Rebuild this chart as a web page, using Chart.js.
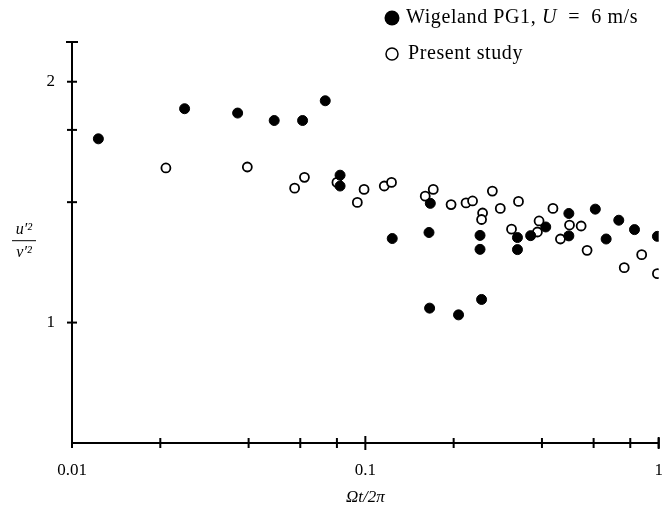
<!DOCTYPE html>
<html>
<head>
<meta charset="utf-8">
<script src="https://cdn.jsdelivr.net/npm/chart.js@4.4.1/dist/chart.umd.min.js"></script>
<style>
  html, body { margin: 0; padding: 0; background: #fff; }
  #wrap { position: relative; width: 665px; height: 511px; }
</style>
</head>
<body>
<div id="wrap"><canvas id="chart" width="665" height="511"></canvas></div>
<script>
// Wigeland PG1, U = 6 m/s (filled circles)
const wigX = [0.0123, 0.0242, 0.0367, 0.0489, 0.0611, 0.073, 0.082, 0.082,
  0.1235, 0.1665, 0.1648, 0.1656, 0.2078, 0.246, 0.246, 0.249, 0.33, 0.33,
  0.366, 0.412, 0.494, 0.494, 0.608, 0.662, 0.731, 0.827, 0.99];
const wigY = [1.763, 1.888, 1.870, 1.839, 1.839, 1.921, 1.612, 1.567,
  1.349, 1.495, 1.374, 1.06, 1.032, 1.362, 1.304, 1.096, 1.353, 1.303,
  1.361, 1.397, 1.453, 1.36, 1.471, 1.347, 1.425, 1.386, 1.358];

// Present study (open circles)
const presX = [0.0209, 0.0396, 0.0574, 0.062, 0.080, 0.0939, 0.099, 0.116,
  0.1228, 0.160, 0.1704, 0.196, 0.2204, 0.232, 0.251, 0.249, 0.271, 0.2884,
  0.3327, 0.315, 0.391, 0.386, 0.436, 0.4966, 0.4624, 0.544, 0.57, 0.763,
  0.875, 0.99];
const presY = [1.642, 1.646, 1.558, 1.603, 1.582, 1.499, 1.553, 1.567,
  1.582, 1.525, 1.553, 1.49, 1.497, 1.505, 1.455, 1.428, 1.546, 1.474,
  1.503, 1.388, 1.422, 1.376, 1.474, 1.405, 1.347, 1.401, 1.30, 1.228,
  1.282, 1.203];

const xTicks = [0.01, 0.02, 0.04, 0.06, 0.08, 0.1, 0.2, 0.4, 0.6, 0.8, 1];
const xLabels = [0.01, 0.1, 1];
const yTicks = [1, 1.5, 1.8, 2];
const yLabels = [1, 2];

const serif = '"Liberation Serif", "DejaVu Serif", serif';

const toPoints = (xs, ys) => xs.map((x, i) => ({ x: x, y: ys[i] }));

// draws ticks across the axes, tick labels, axis titles and the legend
const paperAxes = {
  id: 'paperAxes',
  afterDraw(chart) {
    const ctx = chart.ctx;
    const xs = chart.scales.x, ys = chart.scales.y;
    const area = chart.chartArea;
    ctx.save();
    ctx.strokeStyle = '#000';
    ctx.fillStyle = '#000';
    ctx.lineWidth = 2;

    // axis lines
    ctx.beginPath();
    ctx.moveTo(area.left, area.top);
    ctx.lineTo(area.left, area.bottom);
    ctx.lineTo(area.right, area.bottom);
    ctx.stroke();
    // end caps
    ctx.beginPath();
    ctx.moveTo(area.left - 6, area.top);
    ctx.lineTo(area.left + 6, area.top);
    ctx.moveTo(area.right, area.bottom - 6);
    ctx.lineTo(area.right, area.bottom + 6);
    ctx.stroke();

    // x ticks
    xTicks.forEach(v => {
      const px = xs.getPixelForValue(v);
      const len = v === 0.1 ? 7 : 5;
      ctx.beginPath();
      ctx.moveTo(px, area.bottom - len);
      ctx.lineTo(px, area.bottom + len);
      ctx.stroke();
    });
    // y ticks
    yTicks.forEach(v => {
      const py = ys.getPixelForValue(v);
      ctx.beginPath();
      ctx.moveTo(area.left - 5, py);
      ctx.lineTo(area.left + 5, py);
      ctx.stroke();
    });

    // tick labels
    ctx.font = '17px ' + serif;
    ctx.textAlign = 'center';
    ctx.textBaseline = 'middle';
    xLabels.forEach(v => {
      ctx.fillText(String(v), xs.getPixelForValue(v), area.bottom + 28);
    });
    ctx.textAlign = 'right';
    yLabels.forEach(v => {
      ctx.fillText(String(v), area.left - 17, ys.getPixelForValue(v));
    });

    // x title
    ctx.font = 'italic 17px ' + serif;
    ctx.textAlign = 'center';
    ctx.fillText('\u03A9t/2\u03C0', xs.getPixelForValue(0.1), area.bottom + 55);

    // y title as a fraction
    const fy = ys.getPixelForValue(1.34);
    const fx = 24;
    ctx.font = 'italic 16px ' + serif;
    ctx.fillText('u\u2032\u00B2', fx, fy - 11);
    ctx.fillText('v\u2032\u00B2', fx, fy + 12);
    ctx.lineWidth = 1;
    ctx.beginPath();
    ctx.moveTo(fx - 12, fy);
    ctx.lineTo(fx + 12, fy);
    ctx.stroke();

    // legend
    ctx.textAlign = 'left';
    ctx.beginPath();
    ctx.arc(392, 18, 7.5, 0, Math.PI * 2);
    ctx.fill();
    ctx.lineWidth = 1.5;
    ctx.beginPath();
    ctx.arc(392, 54, 6, 0, Math.PI * 2);
    ctx.stroke();
    const font = '20px ' + serif;
    ctx.font = font;
    ctx.letterSpacing = '0.6px';
    let tx = 406;
    const part1 = 'Wigeland PG1, ';
    ctx.fillText(part1, tx, 18);
    tx += ctx.measureText(part1).width;
    ctx.font = 'italic ' + font;
    ctx.fillText('U', tx, 18);
    tx += ctx.measureText('U').width;
    ctx.font = font;
    ctx.fillText('  =  6 m/s', tx, 18);
    ctx.fillText('Present study', 408, 54);
    ctx.restore();
  }
};

new Chart(document.getElementById('chart').getContext('2d'), {
  type: 'scatter',
  data: {
    datasets: [{
      label: 'Wigeland PG1, U = 6 m/s',
      data: toPoints(wigX, wigY),
      pointStyle: 'circle',
      pointRadius: 5,
      backgroundColor: '#000',
      borderColor: '#000',
      borderWidth: 1
    }, {
      label: 'Present study',
      data: toPoints(presX, presY),
      pointStyle: 'circle',
      pointRadius: 4.5,
      backgroundColor: '#fff',
      borderColor: '#000',
      borderWidth: 1.8
    }]
  },
  options: {
    responsive: false,
    animation: false,
    devicePixelRatio: 1,
    layout: { padding: { top: 42, right: 3, left: 0, bottom: 0 } },
    plugins: { legend: { display: false }, tooltip: { enabled: false } },
    scales: {
      x: {
        type: 'logarithmic',
        min: 0.01,
        max: 1,
        grid: { display: false },
        border: { display: false },
        ticks: { display: false },
        afterFit: s => { s.height = 68; }
      },
      y: {
        type: 'linear',
        min: 0.5,
        max: 2.165,
        grid: { display: false },
        border: { display: false },
        ticks: { display: false },
        afterFit: s => { s.width = 72; }
      }
    }
  },
  plugins: [paperAxes]
});
</script>
</body>
</html>
